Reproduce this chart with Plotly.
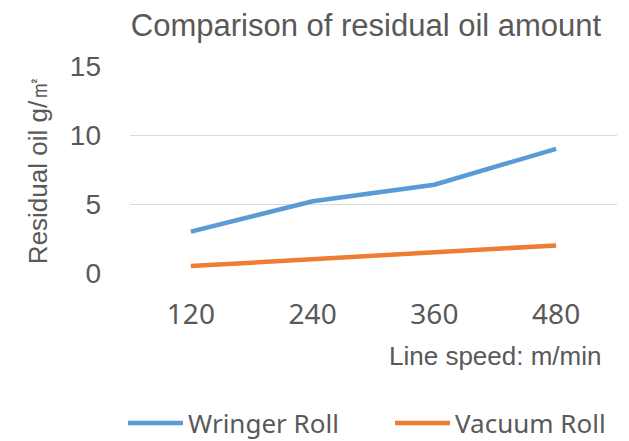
import plotly.graph_objects as go

categories = ["120", "240", "360", "480"]
wringer = [3.0, 5.2, 6.4, 9.0]
vacuum = [0.5, 1.0, 1.5, 2.0]
y_ticks = [0, 5, 10, 15]

# page body has an 8px margin; figure occupies (8..629, 8..441) of the window
OFF = 8
W, H = 629 - OFF, 441 - OFF
L, R, T, B = 130 - OFF, 12, 66 - OFF, 168
plot_w = W - L - R
plot_h = H - T - B


def px_x(x):
    return (x - OFF - L) / plot_w


def px_y(y):
    return (H - B - (y - OFF)) / plot_h


fig = go.Figure()
fig.add_trace(go.Scatter(x=categories, y=wringer, mode="lines", name="Wringer Roll",
                         line=dict(color="#5B9BD5", width=4.5)))
fig.add_trace(go.Scatter(x=categories, y=vacuum, mode="lines", name="Vacuum Roll",
                         line=dict(color="#ED7D31", width=4.5)))

fig.update_layout(
    width=W, height=H,
    margin=dict(l=L, r=R, t=T, b=B, autoexpand=False),
    plot_bgcolor="white", paper_bgcolor="white",
    title=dict(text="Comparison of residual oil amount", x=(366 - OFF) / W, xanchor="center",
               y=1 - (25 - OFF) / H, yanchor="middle",
               font=dict(family="Liberation Sans, Arial", size=31, color="#595959")),
    xaxis=dict(type="category", range=[-0.5, 3.5], showgrid=False, showline=False,
               zeroline=False, ticks="", automargin=False,
               tickfont=dict(family="Noto Sans", size=28, color="#595959"),
               ticklabelstandoff=22),
    yaxis=dict(range=[0, 15], tickvals=y_ticks, showgrid=True, gridcolor="#D9D9D9",
               gridwidth=1.3, zeroline=False, showline=False, ticks="", automargin=False,
               tickfont=dict(family="Liberation Sans, Arial", size=28, color="#595959"),
               ticklabelstandoff=28,
               title=dict(text="Residual oil g/㎡", standoff=14,
                          font=dict(family="Liberation Sans, Arial", size=26, color="#595959"))),
    legend=dict(orientation="h", x=px_x(123),
                xanchor="left", y=px_y(423), yanchor="middle",
                itemwidth=55, entrywidth=197, entrywidthmode="pixels",
                font=dict(family="Noto Sans", size=26, color="#595959")),
)
fig.add_annotation(text="Line speed: m/min", xref="paper", yref="paper",
                   x=px_x(495), y=px_y(356),
                   xanchor="center", yanchor="middle", showarrow=False,
                   font=dict(family="Liberation Sans, Arial", size=26, color="#595959"))

fig.write_html("out.html")
